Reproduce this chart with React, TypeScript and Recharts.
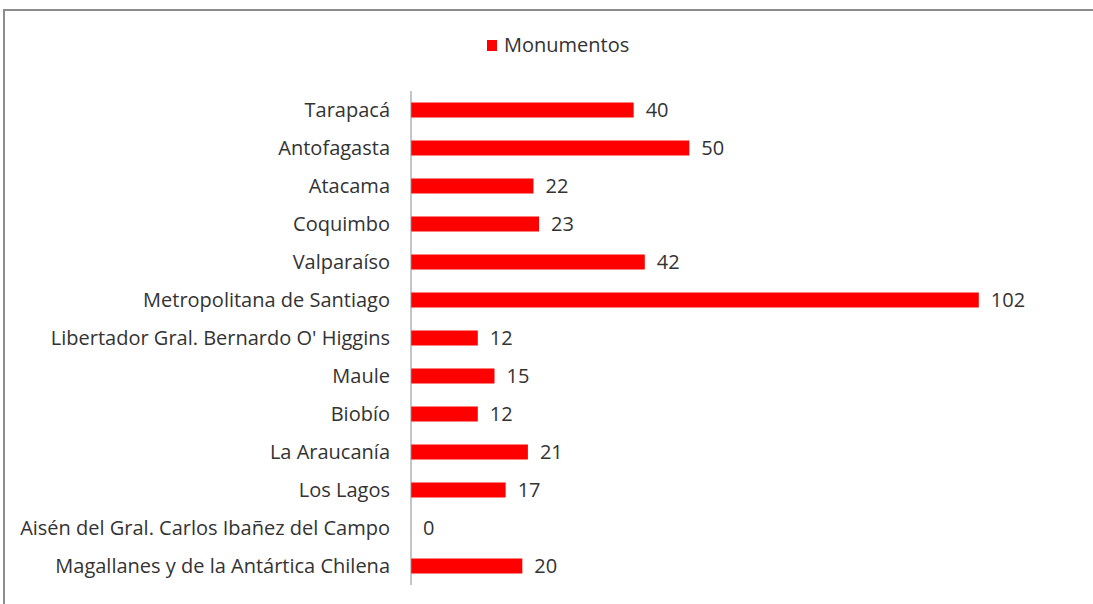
import { BarChart, Bar, XAxis, YAxis, Legend, LabelList } from "recharts";

const regiones = [
  "Tarapacá",
  "Antofagasta",
  "Atacama",
  "Coquimbo",
  "Valparaíso",
  "Metropolitana de Santiago",
  "Libertador Gral. Bernardo O' Higgins",
  "Maule",
  "Biobío",
  "La Araucanía",
  "Los Lagos",
  "Aisén del Gral. Carlos Ibañez del Campo",
  "Magallanes y de la Antártica Chilena",
];

const monumentos = [40, 50, 22, 23, 42, 102, 12, 15, 12, 21, 17, 0, 20];

const seriesName = "Monumentos";

const data = regiones.map((region, i) => ({ region, value: monumentos[i] }));

const TEXT = "#333333";
const RED = "#ff0000";
const FONT = "'Open Sans', sans-serif";

function LegendBox() {
  return (
    <div style={{ display: "flex", alignItems: "center", fontFamily: FONT, fontSize: 20, color: TEXT, lineHeight: "22px" }}>
      <span style={{ display: "inline-block", width: 10, height: 11, background: RED, marginRight: 7 }} />
      {seriesName}
    </div>
  );
}

export default function App() {
  return (
    <div style={{ position: "absolute", left: 0, top: 0, width: 1093, height: 604, overflow: "hidden", background: "#fff" }}>
      <div
        style={{
          position: "absolute",
          left: 3,
          top: 9,
          width: 1200,
          height: 700,
          border: "2px solid #8c8c8c",
        }}
      />
      <div style={{ position: "absolute", left: 0, top: 0 }}>
        <BarChart
          width={1093}
          height={604}
          data={data}
          layout="vertical"
          margin={{ top: 91, right: 14, bottom: 19, left: 0 }}
          barCategoryGap="30%"
        >
          <XAxis type="number" domain={[0, 120]} hide />
          <YAxis
            type="category"
            dataKey="region"
            width={411}
            interval={0}
            axisLine={{ stroke: "#8c8c8c" }}
            tickLine={false}
            tickMargin={15}
            tick={{ fill: TEXT, fontSize: 20, fontFamily: FONT }}
          />
          <Legend
            layout="horizontal"
            verticalAlign="middle"
            align="center"
            content={() => <LegendBox />}
            wrapperStyle={{ position: "absolute", left: 487, top: 34, width: "auto" }}
          />
          <Bar dataKey="value" name={seriesName} fill={RED} minPointSize={0.01} isAnimationActive={false}>
            <LabelList
              dataKey="value"
              position="right"
              offset={12}
              style={{ fill: TEXT, fontSize: 20, fontFamily: FONT }}
            />
          </Bar>
        </BarChart>
      </div>
    </div>
  );
}
